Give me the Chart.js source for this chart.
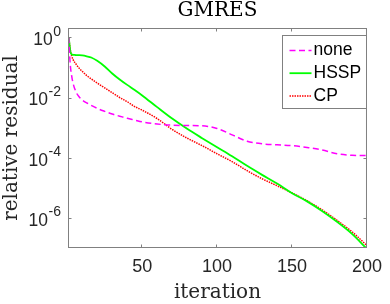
<!DOCTYPE html>
<html>
<head>
<meta charset="utf-8">
<script src="https://cdn.jsdelivr.net/npm/chart.js@4.4.1/dist/chart.umd.min.js"></script>
<style>
  html, body { margin: 0; padding: 0; background: #fff; }
</style>
</head>
<body>
<canvas id="gmresChart" width="390" height="304"></canvas>
<script>
const iterations = [1, 2, 3, 4, 6, 8, 10, 13, 16, 20, 25, 30, 35, 40, 45, 50, 60, 70, 80, 90, 100, 110, 120, 130, 140, 150, 160, 170, 180, 190, 200];

// log10 of the relative residual for each preconditioner
const logNone = [0, -0.9, -1.3, -1.55, -1.83, -1.98, -2.08, -2.18, -2.26, -2.36, -2.46, -2.55, -2.62, -2.69, -2.75, -2.81, -2.88, -2.92, -2.93, -2.94, -3.03, -3.24, -3.45, -3.54, -3.57, -3.6, -3.66, -3.74, -3.87, -3.92, -3.93];
const logHSSP = [0, -0.45, -0.57, -0.58, -0.59, -0.59, -0.6, -0.63, -0.67, -0.78, -0.97, -1.2, -1.4, -1.58, -1.75, -1.93, -2.32, -2.7, -3.04, -3.35, -3.65, -3.95, -4.27, -4.57, -4.86, -5.18, -5.45, -5.77, -6.13, -6.53, -7.03];
const logCP = [0, -0.4, -0.62, -0.75, -0.9, -1.03, -1.13, -1.27, -1.38, -1.52, -1.68, -1.84, -2.0, -2.14, -2.3, -2.42, -2.7, -3.06, -3.35, -3.6, -3.87, -4.13, -4.43, -4.7, -4.93, -5.17, -5.43, -5.73, -6.08, -6.46, -6.92];

const seriesNames = ['none', 'HSSP', 'CP'];
const xTicks = [50, 100, 150, 200];
const yTicks = [1, 1e-2, 1e-4, 1e-6];

const toPoints = logs => logs.map((v, i) => ({ x: iterations[i], y: Math.pow(10, v) }));

const axisGray = '#808080';
const textGray = '#262626';

// box, inward ticks, 10^n labels and the legend box (matlab look)
const matlabAxes = {
  id: 'matlabAxes',
  afterDatasetsDraw(chart) {
    const { ctx, chartArea: a, scales: { x, y } } = chart;
    ctx.save();
    ctx.strokeStyle = axisGray;
    ctx.lineWidth = 1;
    ctx.strokeRect(a.left + 0.5, a.top + 0.5, a.right - a.left - 1, a.bottom - a.top - 1);

    const tl = 3.5;
    ctx.beginPath();
    xTicks.forEach(v => {
      const px = Math.round(x.getPixelForValue(v)) - 0.5;
      ctx.moveTo(px, a.bottom); ctx.lineTo(px, a.bottom - tl);
      ctx.moveTo(px, a.top); ctx.lineTo(px, a.top + tl);
    });
    yTicks.forEach(v => {
      const py = Math.round(y.getPixelForValue(v)) + 0.5;
      ctx.moveTo(a.left, py); ctx.lineTo(a.left + tl, py);
      ctx.moveTo(a.right, py); ctx.lineTo(a.right - tl, py);
    });
    ctx.stroke();

    // y tick labels as 10 with a raised exponent
    ctx.fillStyle = textGray;
    ctx.textAlign = 'right';
    ctx.textBaseline = 'middle';
    const rightEdge = a.left - 7;
    yTicks.forEach(v => {
      const py = y.getPixelForValue(v);
      const e = Math.round(Math.log10(v));
      const expText = String(e);
      ctx.font = '14px "Liberation Sans"';
      const w = ctx.measureText(expText).width;
      ctx.fillText(expText, rightEdge, py - 5.5);
      ctx.font = '17.5px "Liberation Sans"';
      ctx.fillText('10', rightEdge - w - 0.5, py + 3);
    });

    // legend in the upper right
    const lx = 282, ly = 35, lw = 84, lh = 73;
    ctx.fillStyle = '#fff';
    ctx.fillRect(lx, ly, lw, lh);
    ctx.strokeStyle = axisGray;
    ctx.strokeRect(lx + 0.5, ly + 0.5, lw, lh);
    chart.data.datasets.forEach((ds, i) => {
      const cy = ly + 15.5 + i * 22.7;
      ctx.strokeStyle = ds.borderColor;
      ctx.lineWidth = ds.borderWidth;
      ctx.setLineDash(ds.borderDash || []);
      ctx.beginPath();
      ctx.moveTo(lx + 7.5, cy);
      ctx.lineTo(lx + 29.5, cy);
      ctx.stroke();
      ctx.setLineDash([]);
      ctx.fillStyle = '#000';
      ctx.textAlign = 'left';
      ctx.font = '17.5px "Liberation Sans"';
      ctx.fillText(ds.label, lx + 31.5, cy);
    });
    ctx.restore();
  }
};

new Chart(document.getElementById('gmresChart'), {
  type: 'line',
  data: {
    datasets: [
      { label: seriesNames[0], data: toPoints(logNone), borderColor: '#ff00ff', borderWidth: 1.5, borderDash: [6, 3.5] },
      { label: seriesNames[1], data: toPoints(logHSSP), borderColor: '#00ff00', borderWidth: 1.8 },
      { label: seriesNames[2], data: toPoints(logCP), borderColor: '#ff0000', borderWidth: 1.5, borderDash: [1.5, 1] }
    ]
  },
  options: {
    responsive: false,
    devicePixelRatio: 1,
    animation: false,
    layout: { padding: { left: 0, right: 18, top: 0, bottom: 0 } },
    elements: {
      point: { radius: 0 },
      line: { cubicInterpolationMode: 'monotone', fill: false }
    },
    plugins: {
      legend: { display: false },
      tooltip: { enabled: false },
      title: {
        display: true,
        text: 'GMRES',
        fullSize: false,
        color: '#000',
        font: { family: 'DejaVu Serif', size: 20, weight: 'normal', lineHeight: 1 },
        padding: { top: 1, bottom: 7 }
      }
    },
    scales: {
      x: {
        type: 'linear',
        min: 0.5,
        max: 200,
        afterBuildTicks: s => { s.ticks = xTicks.map(v => ({ value: v })); },
        afterFit: s => { s.height = 56; },
        grid: { display: false, drawTicks: false },
        border: { display: false },
        ticks: {
          color: textGray,
          font: { family: 'Liberation Sans', size: 18 },
          padding: 8,
          maxRotation: 0,
          autoSkip: false
        },
        title: {
          display: true,
          text: 'iteration',
          color: textGray,
          font: { family: 'DejaVu Serif', size: 20, lineHeight: 1 },
          padding: { top: 0, bottom: 1 }
        }
      },
      y: {
        type: 'logarithmic',
        min: 1e-7,
        max: Math.pow(10, 0.31),
        afterBuildTicks: s => { s.ticks = yTicks.map(v => ({ value: v })); },
        afterFit: s => { s.width = 68; },
        grid: { display: false, drawTicks: false },
        border: { display: false },
        ticks: { display: false },
        title: {
          display: true,
          text: 'relative residual',
          color: textGray,
          font: { family: 'DejaVu Serif', size: 20, lineHeight: 1 },
          padding: { top: 2, bottom: 0 }
        }
      }
    }
  },
  plugins: [matlabAxes]
});
</script>
</body>
</html>
